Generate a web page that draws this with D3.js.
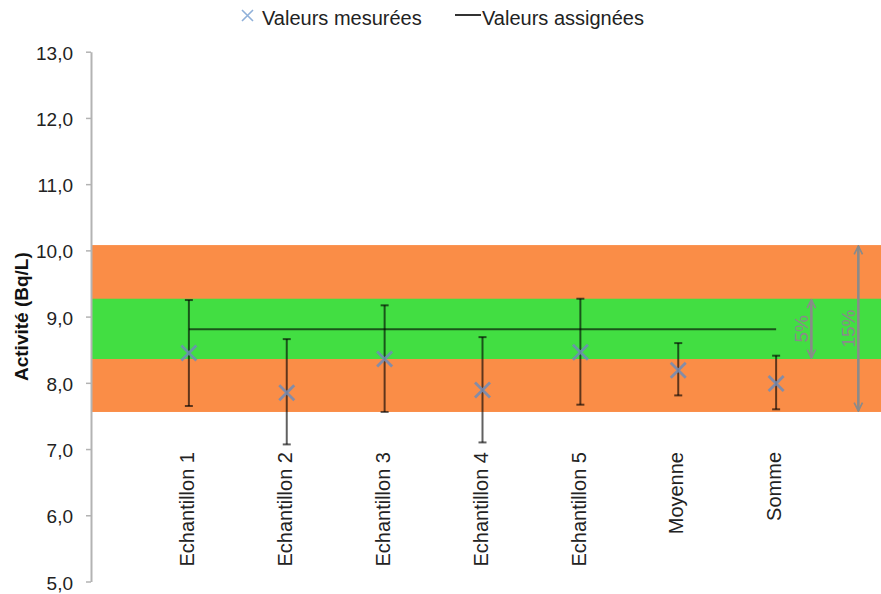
<!DOCTYPE html>
<html>
<head>
<meta charset="utf-8">
<script src="https://cdn.jsdelivr.net/npm/d3@7"></script>
<style>
  body { margin: 0; background: #fff; }
  svg { display: block; font-family: "Liberation Sans", Arial, sans-serif; }
</style>
</head>
<body>
<div id="chart"></div>
<script>
// data
var categories = ["Echantillon 1", "Echantillon 2", "Echantillon 3", "Echantillon 4", "Echantillon 5", "Moyenne", "Somme"];
var measured = [8.45, 7.85, 8.36, 7.89, 8.46, 8.19, 7.99];
var errLow   = [7.65, 7.07, 7.56, 7.10, 7.67, 7.81, 7.60];
var errHigh  = [9.25, 8.66, 9.17, 8.69, 9.27, 8.60, 8.41];
var assigned = 8.81;
var band15 = [7.56, 10.08];   // orange, +-15%
var band5  = [8.36, 9.27];    // green, +-5%
var yTicks = [5, 6, 7, 8, 9, 10, 11, 12, 13];
var legendLabels = ["Valeurs mesurées", "Valeurs assignées"];

var width = 881,
    height = 594,
    plotL = 91, plotR = 881, plotT = 51.7, plotB = 581.5;

var svg = d3.select("#chart").append("svg")
    .attr("width", width)
    .attr("height", height);

var y = d3.scaleLinear().domain([5, 13]).range([plotB, plotT]);
var x = d3.scalePoint().domain(categories).range([plotL, 874]).padding(1);
// same placement in "category index" units, used for the tolerance arrows
var xi = d3.scaleLinear().domain([-1, 7]).range([plotL, 874]);

var fr = d3.formatLocale({decimal: ",", thousands: " ", grouping: [3], currency: ["", "€"]});
var fmt = fr.format(".1f");

// bands
svg.append("rect")
    .attr("x", plotL)
    .attr("y", y(band15[1]))
    .attr("width", plotR - plotL)
    .attr("height", y(band15[0]) - y(band15[1]))
    .attr("fill", "#fa8d47");
svg.append("rect")
    .attr("x", plotL)
    .attr("y", y(band5[1]))
    .attr("width", plotR - plotL)
    .attr("height", y(band5[0]) - y(band5[1]))
    .attr("fill", "#42de42");

// y axis
var yAxis = d3.axisLeft(y)
    .tickValues(yTicks)
    .tickSize(5)
    .tickSizeOuter(0)
    .tickPadding(13)
    .tickFormat(fmt);

var gy = svg.append("g")
    .attr("transform", "translate(" + plotL + ",0)")
    .call(yAxis);
gy.select(".domain").attr("stroke", "#b3b3b3").attr("stroke-width", 2);
gy.selectAll(".tick line").attr("stroke", "#b3b3b3").attr("stroke-width", 1.5);
gy.selectAll(".tick text")
    .attr("fill", "#222")
    .attr("dy", "0.4em")
    .style("font-size", "19px");

// axis title
svg.append("text")
    .attr("transform", "translate(28," + ((plotT + plotB) / 2) + ") rotate(-90)")
    .attr("text-anchor", "middle")
    .style("font-size", "19px")
    .style("font-weight", "bold")
    .attr("fill", "#111")
    .text("Activité (Bq/L)");

// category labels
svg.selectAll(".cat")
    .data(categories)
  .enter().append("text")
    .attr("class", "cat")
    .attr("transform", function(d){ return "translate(" + x(d) + ",452) rotate(-90)"; })
    .attr("text-anchor", "end")
    .attr("dy", "0.26em")
    .attr("fill", "#222")
    .style("font-size", "20px")
    .text(function(d){ return d; });

// assigned value line
svg.append("line")
    .attr("x1", x(categories[0]))
    .attr("x2", x(categories[categories.length - 1]))
    .attr("y1", y(assigned))
    .attr("y2", y(assigned))
    .attr("stroke", "#000")
    .attr("stroke-opacity", 0.62)
    .attr("stroke-width", 2);

// error bars
var eb = svg.selectAll(".err")
    .data(categories)
  .enter().append("g")
    .attr("class", "err")
    .attr("stroke", "#000")
    .attr("stroke-opacity", 0.62)
    .attr("stroke-width", 2);
eb.append("line")
    .attr("x1", function(d){ return x(d); })
    .attr("x2", function(d){ return x(d); })
    .attr("y1", function(d,i){ return y(errLow[i]); })
    .attr("y2", function(d,i){ return y(errHigh[i]); });
eb.append("line")
    .attr("x1", function(d){ return x(d) - 4; })
    .attr("x2", function(d){ return x(d) + 4; })
    .attr("y1", function(d,i){ return y(errHigh[i]); })
    .attr("y2", function(d,i){ return y(errHigh[i]); });
eb.append("line")
    .attr("x1", function(d){ return x(d) - 4; })
    .attr("x2", function(d){ return x(d) + 4; })
    .attr("y1", function(d,i){ return y(errLow[i]); })
    .attr("y2", function(d,i){ return y(errLow[i]); });

// measured markers (x shapes)
var mk = 7.5;
svg.selectAll(".mk")
    .data(categories)
  .enter().append("path")
    .attr("class", "mk")
    .attr("d", function(d,i){
        var cx = x(d), cy = y(measured[i]);
        return "M" + (cx - mk) + "," + (cy - mk) + "L" + (cx + mk) + "," + (cy + mk) +
               "M" + (cx - mk) + "," + (cy + mk) + "L" + (cx + mk) + "," + (cy - mk);
    })
    .attr("stroke", "#6f8cb8")
    .attr("stroke-opacity", 0.85)
    .attr("stroke-width", 2.8)
    .attr("fill", "none");

// tolerance arrows
var defs = svg.append("defs");
defs.append("marker")
    .attr("id", "head")
    .attr("viewBox", "0 0 10 10")
    .attr("refX", 9)
    .attr("refY", 5)
    .attr("markerWidth", 4)
    .attr("markerHeight", 4)
    .attr("orient", "auto-start-reverse")
  .append("path")
    .attr("d", "M1,1L9,5L1,9")
    .attr("fill", "none")
    .attr("stroke", "#8a8a8a")
    .attr("stroke-width", 1.6);

var tol = [
    {label: "5%", band: band5, pos: 6.36},
    {label: "15%", band: band15, pos: 6.84}
];
var ar = svg.selectAll(".tol")
    .data(tol)
  .enter().append("g")
    .attr("class", "tol");
ar.append("line")
    .attr("x1", function(d){ return xi(d.pos); })
    .attr("x2", function(d){ return xi(d.pos); })
    .attr("y1", function(d){ return y(d.band[1]) + 1; })
    .attr("y2", function(d){ return y(d.band[0]) - 1; })
    .attr("stroke", "#8a8a8a")
    .attr("stroke-width", 2.6)
    .attr("marker-start", "url(#head)")
    .attr("marker-end", "url(#head)");
ar.append("text")
    .attr("transform", function(d){
        return "translate(" + (xi(d.pos) - 3) + "," + y((d.band[0] + d.band[1]) / 2) + ") rotate(-90)";
    })
    .attr("text-anchor", "middle")
    .attr("fill", "#8a8a8a")
    .style("font-size", "19px")
    .text(function(d){ return d.label; });

// legend
var lg = svg.append("g");
lg.append("path")
    .attr("d", "M242,10L253,21M242,21L253,10")
    .attr("stroke", "#8fb0d9")
    .attr("stroke-width", 1.6);
lg.append("text")
    .attr("x", 262).attr("y", 24.5)
    .attr("fill", "#222")
    .style("font-size", "20px")
    .text(legendLabels[0]);
lg.append("line")
    .attr("x1", 455).attr("x2", 481)
    .attr("y1", 15).attr("y2", 15)
    .attr("stroke", "#333")
    .attr("stroke-width", 2);
lg.append("text")
    .attr("x", 482).attr("y", 24.5)
    .attr("fill", "#222")
    .style("font-size", "20px")
    .text(legendLabels[1]);
</script>
</body>
</html>
